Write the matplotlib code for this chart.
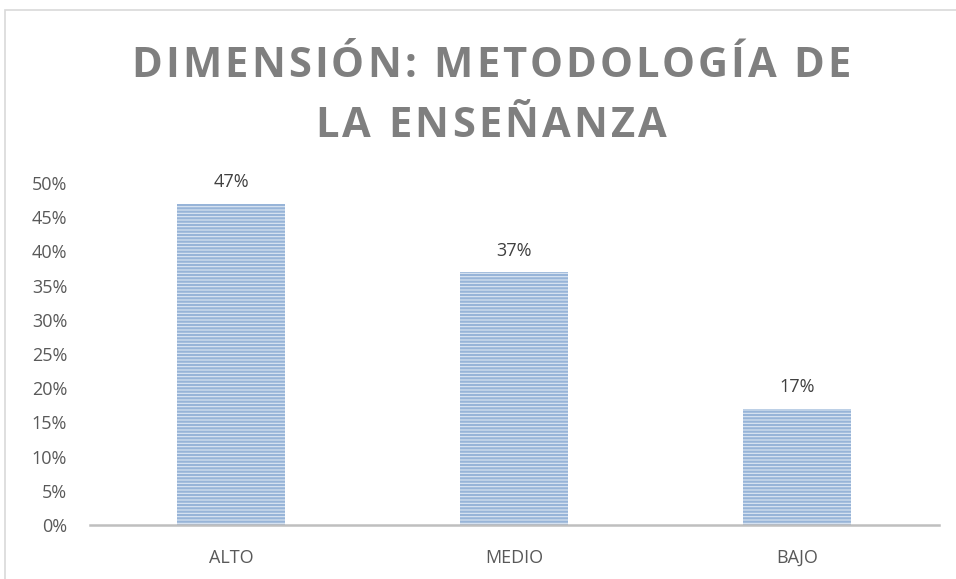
import matplotlib.pyplot as plt
from matplotlib.patches import Rectangle
from matplotlib.ticker import PercentFormatter

categories = ['ALTO', 'MEDIO', 'BAJO']
values = [47, 37, 17]
yticks = [0, 5, 10, 15, 20, 25, 30, 35, 40, 45, 50]
title_lines = ['DIMENSIÓN: METODOLOGÍA DE', 'LA ENSEÑANZA']

W, H = 956, 579
plt.rcParams['hatch.linewidth'] = 1.6
fig = plt.figure(figsize=(W / 100, H / 100), dpi=100)
fig.patch.set_facecolor('white')

# outer chart frame (goes off the right and bottom edges)
fig.patches.append(Rectangle((5 / W, -0.05), 1.2, 1 - 10 / H + 0.05,
                             transform=fig.transFigure, fill=False,
                             edgecolor='#D9D9D9', linewidth=1.2))

ax = fig.add_axes([89.5 / W, 1 - 525 / H, 849 / W, (525 - 183) / H])
bars = ax.bar(range(len(categories)), values, width=0.38,
              color='#DDE7F3', edgecolor='#97B4D8', linewidth=0, hatch='-----')

for i, v in enumerate(values):
    ax.text(i, v + 1.8, '{}%'.format(v), ha='center', va='bottom',
            fontsize=13, color='#404040', family='Open Sans')

ax.set_xlim(-0.5, 2.5)
ax.set_ylim(0, 50)
ax.set_yticks(yticks)
ax.yaxis.set_major_formatter(PercentFormatter(decimals=0))
ax.set_xticks(range(len(categories)))
ax.set_xticklabels(categories)
ax.tick_params(axis='both', length=0, labelsize=13, labelcolor='#595959')
ax.tick_params(axis='y', pad=16)
ax.tick_params(axis='x', pad=17)
for lab in ax.get_xticklabels() + ax.get_yticklabels():
    lab.set_family('Open Sans')

for s in ['top', 'right', 'left']:
    ax.spines[s].set_visible(False)
ax.spines['bottom'].set_color('#BFBFBF')
ax.spines['bottom'].set_linewidth(1.8)

# title with letter spacing, placed char by char
renderer = fig.canvas.get_renderer()
tstyle = dict(fontsize=30, fontweight='bold', color='#7F7F7F', family='Open Sans')
spacing = 3.2  # px between letters
bar_w = fig.text(0, 0, '|', **tstyle).get_window_extent(renderer).width


def prefix_width(s):
    t = fig.text(0, 0, s + '|', **tstyle)
    w = t.get_window_extent(renderer).width - bar_w
    t.remove()
    return w


for line, yb in zip(title_lines, [77, 137]):
    n = len(line)
    total = prefix_width(line) + spacing * (n - 1)
    x0 = 491 - total / 2
    for k, ch in enumerate(line):
        if ch == ' ':
            continue
        x = x0 + prefix_width(line[:k]) + k * spacing
        fig.text(x / W, 1 - yb / H, ch, ha='left', va='baseline', **tstyle)
fig.texts = [t for t in fig.texts if t.get_text() != '|']

fig.savefig('out.png', dpi=100)
